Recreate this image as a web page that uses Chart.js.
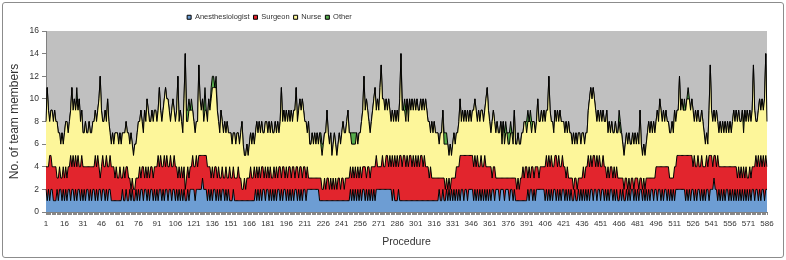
<!DOCTYPE html>
<html>
<head>
<meta charset="utf-8">
<title>Team members per procedure</title>
<script src="https://cdn.jsdelivr.net/npm/chart.js@4.4.1/dist/chart.umd.min.js"></script>
<style>
  html, body { margin: 0; padding: 0; background: #fff; }
  #frame { position: absolute; left: 2px; top: 2px; width: 780px; height: 254px; border: 1px solid #8c8c8c; border-radius: 3px; }
  #wrap { position: absolute; left: 0; top: 0; width: 786px; height: 260px; }
</style>
</head>
<body>
<div id="frame"></div>
<div id="wrap"><canvas id="chart" width="786" height="260"></canvas></div>
<script>
// procedure numbers 1..586 (x categories), a label every 15th
const procedures = Array.from({ length: 586 }, (_, i) => String(i + 1));
const labelEvery = 15;

// team members per procedure in rows of 15 procedures
const anesthesiologist = [
  2,1,2,1,2,2,1,1,1,2,1,2,2,1,2, 1,2,1,2,2,1,2,2,1,2,1,2,2,1,2,
  1,2,1,2,2,1,2,1,2,2,1,2,1,2,2, 1,2,2,1,2,1,2,2,1,1,1,1,1,1,1,
  1,1,2,1,1,2,1,1,2,1,2,1,1,2,1, 2,1,2,2,1,2,2,1,2,1,2,2,1,2,1,
  2,1,2,2,1,2,1,2,2,1,2,2,1,2,2, 1,2,1,2,1,2,1,2,1,1,2,1,2,2,2,
  2,1,2,2,2,2,2,3,2,2,2,1,2,1,2, 1,2,2,1,2,1,2,1,2,2,1,2,1,2,1,
  1,1,2,1,1,1,1,1,1,1,1,1,1,1,1, 1,1,1,1,1,2,1,2,1,2,1,2,2,1,2,
  2,1,2,1,2,1,2,1,2,2,1,2,1,2,2, 1,2,1,2,1,2,1,2,2,1,2,1,2,1,2,
  2,1,2,2,2,2,2,2,2,2,2,2,1,1,1, 1,1,1,1,1,1,1,1,1,1,1,1,1,1,1,
  1,1,1,1,1,1,1,2,1,2,1,2,1,2,1, 2,1,2,2,1,2,1,2,1,2,1,2,1,2,2,
  2,2,2,2,2,2,2,2,2,2,2,1,2,1,1, 1,2,1,1,1,1,1,1,1,1,1,1,1,1,1,
  1,1,1,1,1,1,1,1,1,1,1,1,1,1,1, 1,1,1,1,2,1,1,2,1,1,2,1,2,1,2,
  1,2,1,2,1,2,1,2,2,1,2,2,1,2,2, 2,2,1,2,1,2,1,2,1,2,1,2,1,2,1,
  2,1,2,2,1,2,2,2,1,2,2,2,1,2,2, 2,1,2,2,1,2,1,1,1,1,1,1,1,1,1,
  1,2,1,2,2,1,2,1,2,2,2,2,2,2,2, 1,2,1,2,1,2,1,2,2,1,2,1,2,1,2,
  2,1,2,1,2,1,2,1,1,2,1,1,2,1,2, 1,2,1,2,1,2,1,2,2,1,2,2,1,2,2,
  1,2,2,1,2,1,2,1,2,2,1,2,1,2,1, 1,2,1,2,1,1,2,1,2,1,2,2,1,2,1,
  2,1,2,2,1,2,1,2,1,2,1,2,2,1,2, 2,1,2,2,1,2,1,2,2,1,2,1,2,1,2,
  1,2,2,2,2,2,2,2,2,1,2,1,2,1,2, 2,1,2,1,2,2,1,2,1,2,1,2,2,1,2,
  2,2,3,2,2,1,2,1,2,1,2,1,2,2,1, 2,1,2,1,2,1,2,1,2,1,2,1,2,1,2,
  1,2,1,2,2,1,2,2,1,2,1,2,2,1,2, 2
];
const surgeon = [
  2,3,2,4,3,2,3,3,3,1,2,2,1,2,2, 2,2,2,2,2,4,2,3,3,3,3,3,2,3,3,
  3,2,3,2,2,3,2,3,2,2,4,2,4,2,1, 3,3,2,3,3,3,2,3,3,3,3,2,3,2,2,
  3,2,1,3,2,2,3,2,1,1,1,1,1,1,2, 1,3,1,2,3,1,2,2,2,2,2,2,2,2,3,
  2,4,2,3,3,2,4,2,3,3,2,3,3,2,3, 3,2,2,2,2,2,2,2,1,2,2,2,2,2,3,
  2,3,3,2,3,3,3,2,3,3,3,3,2,3,1, 3,1,2,3,1,3,1,2,2,1,2,2,2,1,3,
  2,2,2,2,2,2,3,2,2,1,1,2,1,2,2, 2,3,2,2,3,1,3,1,3,1,3,2,1,3,1,
  2,2,2,2,1,3,1,3,1,2,3,1,3,2,1, 3,1,3,2,2,2,3,1,2,3,1,3,2,2,2,
  2,2,2,1,1,1,1,1,1,1,1,1,2,2,1, 1,2,1,2,2,1,2,1,2,1,2,1,2,2,1,
  2,2,1,2,2,2,2,2,2,2,2,2,2,2,2, 2,2,2,2,3,1,3,2,2,2,3,2,3,3,2,
  2,2,2,3,2,2,3,3,2,3,2,4,2,4,3, 4,2,4,4,3,4,4,3,4,3,4,4,3,4,3,
  4,3,4,3,4,4,3,4,3,3,3,2,3,2,2, 2,2,2,2,1,2,2,1,2,1,1,1,1,1,1,
  2,1,2,2,3,2,4,3,3,4,3,3,4,3,3, 3,3,3,3,3,3,3,2,4,2,3,3,3,2,3,
  2,3,1,2,3,1,1,1,2,1,1,1,2,1,1, 1,2,1,1,2,1,2,1,2,1,2,2,3,2,3,
  3,1,3,1,2,3,1,3,2,2,1,2,2,2,2, 3,3,3,3,3,3,3,2,3,4,2,4,2,3,3,
  2,3,1,3,1,2,1,2,1,1,2,1,1,2,1, 2,2,2,2,3,3,3,3,2,4,3,2,4,2,3,
  3,2,3,3,2,2,2,2,2,2,2,2,2,2,2, 2,1,2,1,1,2,1,1,1,1,1,1,1,1,2,
  1,1,1,1,1,1,1,1,2,1,2,1,1,2,1, 2,3,2,2,3,2,3,2,2,3,2,2,1,2,1,
  3,2,3,3,3,3,3,3,3,4,3,4,3,4,3, 2,4,2,3,3,2,3,3,3,2,3,3,2,4,3,
  3,2,2,3,2,4,2,3,2,3,2,3,2,2,3, 2,3,2,3,2,3,1,3,1,3,1,3,1,3,1,
  2,2,2,2,2,3,3,2,4,2,4,2,3,3,3, 2
];
const nurse = [
  4,7,5,3,4,5,4,5,4,5,4,3,3,4,2, 4,4,5,3,4,4,7,4,6,4,6,4,6,4,4,
  3,3,4,3,3,4,3,3,4,4,4,4,4,6,9, 5,3,4,5,3,6,4,2,2,3,2,4,3,4,3,
  3,3,4,3,4,4,3,4,3,5,3,3,4,3,4, 5,4,6,4,3,6,4,7,5,5,4,5,5,5,5,
  4,4,7,4,4,5,5,7,5,6,5,3,5,6,4, 4,5,9,4,6,4,4,6,12,5,4,6,5,5,4,
  4,3,3,4,8,5,4,5,3,4,4,4,6,5,7, 7,8,7,7,6,4,4,6,4,4,5,3,5,4,3,
  4,3,3,4,3,4,3,3,4,6,4,2,3,3,2, 3,3,3,4,2,4,4,4,4,4,4,3,4,4,5,
  3,5,3,5,4,3,5,3,5,3,4,8,4,5,5, 5,5,5,4,6,4,5,6,7,4,6,6,5,7,5,
  4,5,3,5,3,3,4,3,4,3,4,3,4,3,3, 4,4,5,6,4,4,4,3,3,5,3,3,3,4,4,
  4,5,5,4,5,6,4,3,3,2,3,2,4,2,4, 3,5,5,8,5,7,5,4,4,4,5,6,7,4,6,
  5,7,9,5,6,5,5,4,6,4,4,4,4,4,4, 4,4,5,9,5,4,4,4,5,4,5,4,6,4,6,
  4,6,4,5,5,4,6,4,6,5,4,5,3,5,4, 5,4,4,4,3,4,4,6,3,4,3,4,2,4,2,
  3,4,3,3,3,4,5,3,4,3,4,3,4,3,4, 3,4,5,5,5,3,5,4,4,5,4,4,6,7,5,
  4,3,5,5,4,4,5,4,4,5,3,5,3,4,4, 3,3,4,4,3,6,3,4,4,4,3,4,3,5,4,
  3,5,4,5,3,4,5,3,4,6,5,4,5,4,5, 4,4,5,7,5,3,4,3,4,3,5,3,5,4,3,
  4,3,5,3,5,4,4,3,5,3,4,4,4,4,3, 4,3,3,3,3,4,6,6,6,6,5,5,3,5,3,
  5,4,4,4,4,6,3,5,3,4,4,3,5,3,4, 5,4,4,3,3,3,4,4,4,4,3,4,4,4,3,
  4,4,6,3,3,3,3,3,4,5,4,5,4,5,4, 4,5,4,6,5,4,5,4,5,4,4,4,4,5,4,
  5,4,4,4,7,4,5,4,4,4,5,5,5,4,5, 5,3,5,4,4,4,4,4,4,3,2,2,2,4,8,
  4,4,4,3,5,3,3,4,3,4,3,4,3,4,3, 4,3,4,5,4,5,5,5,5,4,6,3,6,4,6,
  5,5,5,5,9,5,3,4,4,6,4,6,4,6,9, 4
];
const other = [
  0,0,0,0,0,0,0,0,0,0,0,0,0,0,0, 0,0,0,0,0,0,0,0,0,0,1,0,0,0,0,
  0,0,0,0,0,0,0,0,0,0,0,0,0,0,0, 0,0,0,0,0,0,0,0,0,0,0,0,0,0,0,
  0,0,0,0,0,0,0,0,0,0,0,0,0,0,0, 0,0,0,0,0,0,0,0,0,0,0,0,0,0,0,
  0,0,0,0,0,0,0,0,0,0,0,0,0,0,0, 0,0,0,0,0,0,0,0,0,1,1,1,0,1,0,
  0,0,0,0,0,0,0,0,1,2,0,0,0,0,1, 1,1,0,1,0,0,0,0,0,0,0,0,0,0,0,
  0,0,0,0,0,0,0,0,0,0,0,0,0,0,0, 0,0,0,0,0,0,0,0,0,0,0,0,0,0,0,
  0,0,0,0,0,0,0,0,0,0,0,0,0,0,0, 0,0,0,0,0,0,0,0,0,0,0,0,0,0,0,
  0,0,0,0,0,0,0,0,0,0,0,0,0,1,1, 0,0,0,0,0,0,0,0,0,0,0,0,0,0,0,
  0,0,0,0,0,0,0,0,1,1,1,1,0,0,0, 0,0,0,0,0,0,0,0,0,0,0,0,0,0,0,
  0,0,0,0,0,0,0,0,0,0,0,0,0,0,0, 0,0,0,0,1,0,1,1,0,1,0,0,0,0,0,
  0,0,0,0,0,0,0,0,0,0,0,0,0,0,0, 0,0,0,0,0,0,0,0,1,1,1,0,0,0,0,
  0,0,0,0,0,0,0,0,0,0,0,0,0,0,0, 0,0,0,0,0,0,0,0,0,0,0,0,0,0,0,
  0,0,0,0,0,0,0,0,0,0,1,0,1,1,0, 1,1,1,0,1,0,0,0,0,0,0,0,0,0,0,
  1,1,0,1,1,0,0,0,0,0,0,0,0,0,0, 0,0,0,0,0,0,0,0,0,0,0,0,0,0,0,
  0,0,0,0,0,0,0,0,0,0,0,0,0,0,0, 0,0,0,0,0,0,0,0,0,0,0,0,0,0,0,
  0,0,0,0,0,0,0,0,0,0,0,0,0,0,0, 1,1,0,0,0,0,0,0,0,0,0,0,0,0,0,
  0,0,0,0,0,0,0,0,0,0,0,0,0,0,0, 0,0,0,0,0,0,0,0,0,0,0,0,0,0,0,
  0,0,0,0,0,0,0,0,1,0,0,1,0,0,0, 0,0,0,0,0,0,0,0,0,0,0,0,0,0,0,
  0,0,0,0,0,0,0,0,0,0,0,0,0,0,0, 0,0,0,0,0,0,0,0,0,0,0,1,0,0,0,
  0,0,0,0,0,0,0,0,0,0,0,0,0,0,0, 0
];

const SANS = "'Liberation Sans', Arial, sans-serif";

// grey plot area behind the stacks
const plotBackground = {
    id: 'plotBackground',
    beforeDraw(chart) {
        const { ctx, chartArea: a } = chart;
        ctx.save();
        ctx.fillStyle = '#c0c0c0';
        ctx.fillRect(a.left, a.top, a.right - a.left, a.bottom - a.top);
        ctx.restore();
    }
};

// the legend sits left of centre in the original
const legendShift = {
    id: 'legendShift',
    afterLayout(chart) {
        if (chart.legend) chart.legend.right -= 228;
    }
};

function layer(label, data, color, fill) {
    return {
        label: label,
        data: data,
        backgroundColor: color,
        borderColor: '#000',
        borderWidth: 1,
        pointRadius: 0,
        pointHoverRadius: 0,
        tension: 0,
        fill: fill
    };
}

Chart.defaults.font.family = SANS;
Chart.defaults.color = '#333';

new Chart(document.getElementById('chart'), {
    type: 'line',
    data: {
        labels: procedures,
        datasets: [
            layer('Anesthesiologist', anesthesiologist, '#6d9dd3', 'origin'),
            layer('Surgeon', surgeon, '#e2252d', '-1'),
            layer('Nurse', nurse, '#fdf69a', '-1'),
            layer('Other', other, '#56ab4b', '-1')
        ]
    },
    options: {
        responsive: false,
        animation: false,
        layout: { padding: { top: 9.5, right: 19, bottom: 6, left: 0 } },
        plugins: {
            legend: {
                position: 'top',
                labels: { boxWidth: 4, boxHeight: 4, padding: 4, font: { size: 7.5 }, color: '#333' }
            },
            tooltip: { enabled: false }
        },
        scales: {
            x: {
                offset: false,
                grid: { display: true, drawOnChartArea: false, tickLength: 3, color: '#888' },
                border: { color: '#808080' },
                ticks: {
                    autoSkip: false,
                    maxRotation: 0,
                    minRotation: 0,
                    padding: 4,
                    font: { size: 8 },
                    callback: function (value, index) {
                        return index % labelEvery === 0 ? this.getLabelForValue(value) : '';
                    }
                },
                title: {
                    display: true,
                    text: 'Procedure',
                    font: { size: 10.5 },
                    color: '#333',
                    padding: { top: 0, bottom: 6 }
                },
                afterFit: function (scale) { scale.height = 42; }
            },
            y: {
                stacked: true,
                min: 0,
                max: 16,
                grid: { display: true, drawOnChartArea: false, tickLength: 4, color: '#808080' },
                border: { color: '#808080' },
                ticks: { stepSize: 2, padding: 3, font: { size: 8.5 } },
                title: {
                    display: true,
                    text: 'No. of team members',
                    font: { size: 12 },
                    color: '#333',
                    padding: { top: 7, bottom: 0 }
                },
                afterFit: function (scale) { scale.width = 46; }
            }
        }
    },
    plugins: [plotBackground, legendShift]
});
</script>
</body>
</html>
